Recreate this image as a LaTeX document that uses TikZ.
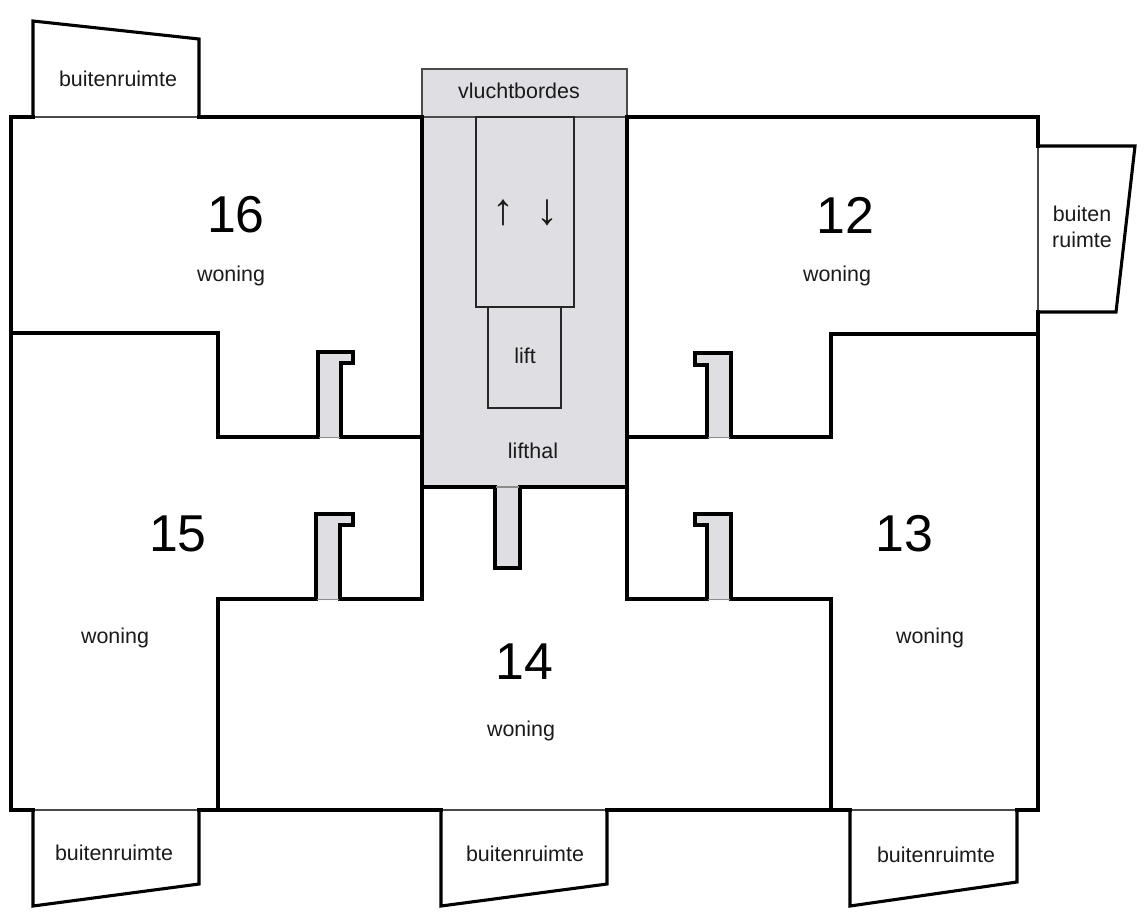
\documentclass[tikz,border=0pt]{standalone}
\usepackage{fontspec}
\setmainfont{Liberation Sans}
\definecolor{corefill}{HTML}{DFDEE3}
\definecolor{thinline}{HTML}{4A4A4A}
\definecolor{labeltext}{HTML}{1A1A1A}
\tikzset{
    wall/.style={line width=0.062cm, line join=miter, line cap=rect, black},
    thinwall/.style={line width=0.022cm, thinline},
    stairline/.style={line width=0.022cm, black!85},
    ductbase/.style={line width=0.03cm, black!45},
    duct/.style={wall, line cap=butt, fill=corefill},
    core/.style={fill=corefill, draw=none},
    label/.style={font=\fontsize{12.2}{14.6}\selectfont, text=labeltext, inner sep=0pt, align=center},
    number/.style={font=\fontsize{29.5}{32}\selectfont, text=black, inner sep=0pt},
    arrowtext/.style={font=\fontsize{25}{28}\selectfont, text=labeltext, inner sep=0pt},
}
\begin{document}
\begin{tikzpicture}[x=0.02cm, y=-0.02cm]
    \useasboundingbox (0,0) rectangle (1145,923);

    % stair core and escape landing
    \fill[core] (422,117) rectangle (627,487);
    \draw[thinwall, fill=corefill] (422,69) rectangle (627,117);
    \draw[stairline] (476,117) rectangle (574,307);
    \draw[stairline] (488,307) rectangle (561,408);

    % thin edges between building and balconies
    \draw[thinwall] (33,117) -- (199,117);
    \draw[thinwall] (1038,146) -- (1038,312);
    \draw[thinwall] (33,810) -- (199,810);
    \draw[thinwall] (441,810) -- (607,810);
    \draw[thinwall] (850,810) -- (1017,810);

    % outer walls
    \draw[wall] (33,117) -- (11,117) -- (11,810) -- (33,810);
    \draw[wall] (199,117) -- (422,117);
    \draw[wall] (627,117) -- (1038,117) -- (1038,146);
    \draw[wall] (1038,312) -- (1038,810) -- (1017,810);
    \draw[wall] (850,810) -- (607,810);
    \draw[wall] (441,810) -- (199,810);

    % balconies
    \draw[wall] (33,117) -- (33,21) -- (199,39) -- (199,117);
    \draw[wall] (1038,146) -- (1135,146) -- (1116,312) -- (1038,312);
    \draw[wall] (33,810) -- (33,906) -- (199,884) -- (199,810);
    \draw[wall] (441,810) -- (441,906) -- (607,884) -- (607,810);
    \draw[wall] (850,810) -- (850,906) -- (1017,882) -- (1017,810);

    % dwelling partitions
    \draw[wall] (11,333) -- (218,333) -- (218,437) -- (318,437);
    \draw[wall] (341,437) -- (422,437);
    \draw[wall] (218,810) -- (218,599) -- (316,599);
    \draw[wall] (340,599) -- (422,599) -- (422,117);
    \draw[wall] (422,487) -- (495,487);
    \draw[wall] (520,487) -- (627,487);
    \draw[wall] (831,810) -- (831,599) -- (731,599);
    \draw[wall] (707,599) -- (627,599) -- (627,117);
    \draw[wall] (627,437) -- (707,437);
    \draw[wall] (731,437) -- (831,437) -- (831,334) -- (1038,334);

    % ducts
    \draw[duct] (318,438) -- (318,352) -- (353,352) -- (353,363) -- (341,363) -- (341,438);
    \draw[duct] (316,600) -- (316,514) -- (353,514) -- (353,525) -- (340,525) -- (340,600);
    \draw[duct] (495,486) -- (495,568) -- (520,568) -- (520,486);
    \draw[duct] (731,438) -- (731,353) -- (695,353) -- (695,365) -- (707,365) -- (707,438);
    \draw[duct] (731,600) -- (731,514) -- (695,514) -- (695,525) -- (707,525) -- (707,600);
    \draw[ductbase] (319,437.5) -- (340,437.5);
    \draw[ductbase] (317,599.5) -- (339,599.5);
    \draw[ductbase] (496,487) -- (519,487);
    \draw[ductbase] (708,437.5) -- (730,437.5);
    \draw[ductbase] (708,599.5) -- (730,599.5);

    % dwelling numbers
    \foreach \i/\x/\y in {16/236/215, 12/845/215, 15/178/534, 13/904/534, 14/524/662} {
        \node[number] (n\i) at (\x,\y) {\i};
    }
    \foreach \i/\x/\y in {16/231/276, 12/837/276, 15/115/638, 13/930/638, 14/521/731} {
        \node[label] (w\i) at (\x,\y) {woning};
    }
    \foreach \i/\x/\y in {1/118/79, 2/114/853, 3/525/854, 4/936/855} {
        \node[label] (b\i) at (\x,\y) {buitenruimte};
    }
    \node[label] (b5) at (1082,227) {buiten\\ruimte};
    \node[label] (vlucht) at (519,91) {vluchtbordes};
    \node[label] (lift) at (525,356) {lift};
    \node[label] (lifthal) at (533,451) {lifthal};
    \node[arrowtext] (up) at (503,213) {↑};
    \node[arrowtext] (down) at (547,213) {↓};
\end{tikzpicture}
\end{document}
